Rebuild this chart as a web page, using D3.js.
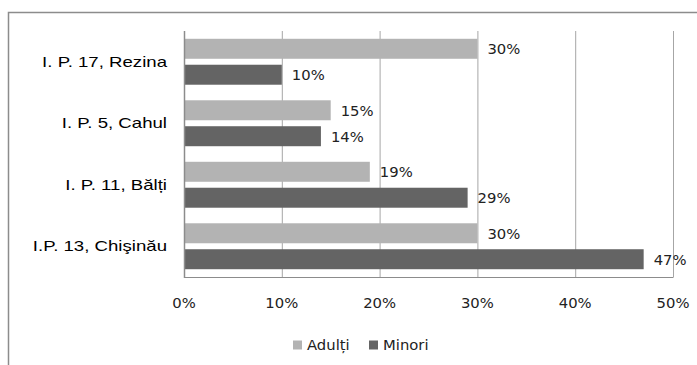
<!DOCTYPE html>
<html>
<head>
<meta charset="utf-8">
<script src="https://cdn.jsdelivr.net/npm/d3@7"></script>
<style>
  body { margin: 0; background: #fff; }
  svg { display: block; }
</style>
</head>
<body>
<svg></svg>
<script>
// data
var categories = ['I. P. 17, Rezina', 'I. P. 5, Cahul', 'I. P. 11, Bălți', 'I.P. 13, Chişinău'];
var adulti = [30, 15, 19, 30];
var minori = [10, 14, 29, 47];
var seriesNames = ['Adulți', 'Minori'];
var xTicks = [0, 10, 20, 30, 40, 50];

var colors = ['#b3b3b3', '#646464'];
var numFont = '14.8px';

var svg = d3.select('svg')
    .attr('width', 697)
    .attr('height', 365);

// outer chart frame (runs off the right and bottom edges)
svg.append('rect')
    .attr('x', 8.5).attr('y', 12.5)
    .attr('width', 700).attr('height', 400)
    .attr('fill', '#fff')
    .attr('stroke', '#8c8c8c')
    .attr('stroke-width', 1.5);

// plot area  (don't call it "top", that's window.top)
var plotLeft = 184, plotRight = 673, plotTop = 31, plotBottom = 277;

var x = d3.scaleLinear().domain([0, 50]).range([plotLeft, plotRight]);
var y = d3.scaleBand().domain(categories).range([plotTop, plotBottom]);
var y1 = d3.scaleBand().domain(seriesNames).range([0, y.bandwidth()])
    .paddingInner(0.23).paddingOuter(0.3);

// vertical gridlines
svg.append('g')
    .selectAll('line')
    .data(xTicks.slice(1))
    .enter()
    .append('line')
    .attr('x1', d => x(d) + 0.5).attr('x2', d => x(d) + 0.5)
    .attr('y1', plotTop).attr('y2', plotBottom)
    .attr('stroke', '#a6a6a6')
    .attr('stroke-width', 1);

// bars
var rows = categories.map((c, i) => ({ cat: c, values: [adulti[i], minori[i]] }));

var groups = svg.append('g')
    .selectAll('g')
    .data(rows)
    .enter()
    .append('g')
    .attr('transform', d => 'translate(0,' + y(d.cat) + ')');

groups.selectAll('rect')
    .data(d => d.values.map((v, j) => ({ s: seriesNames[j], v: v, j: j })))
    .enter()
    .append('rect')
    .attr('x', x(0))
    .attr('y', d => y1(d.s))
    .attr('width', d => x(d.v) - x(0))
    .attr('height', y1.bandwidth())
    .attr('fill', d => colors[d.j]);

groups.selectAll('text')
    .data(d => d.values.map((v, j) => ({ s: seriesNames[j], v: v })))
    .enter()
    .append('text')
    .attr('x', d => x(d.v) + 10)
    .attr('y', d => y1(d.s) + y1.bandwidth() / 2)
    .attr('dy', '0.36em')
    .style('font-family', 'DejaVu Sans')
    .style('font-size', numFont)
    .style('fill', '#222')
    .text(d => d.v + '%');

// axis lines
svg.append('line')
    .attr('x1', plotLeft).attr('x2', plotRight + 0.5)
    .attr('y1', plotBottom + 0.5).attr('y2', plotBottom + 0.5)
    .attr('stroke', '#8c8c8c');
svg.append('line')
    .attr('x1', plotLeft + 0.5).attr('x2', plotLeft + 0.5)
    .attr('y1', plotTop).attr('y2', plotBottom + 1)
    .attr('stroke', '#8c8c8c')
    .attr('stroke-width', 1.5);

// x tick labels
svg.append('g')
    .selectAll('text')
    .data(xTicks)
    .enter()
    .append('text')
    .attr('x', d => x(d))
    .attr('y', 303)
    .attr('dy', '0.36em')
    .attr('text-anchor', 'middle')
    .style('font-family', 'DejaVu Sans')
    .style('font-size', numFont)
    .style('fill', '#222')
    .text(d => d + '%');

// category labels (the original is stretched sideways)
svg.append('g')
    .selectAll('g')
    .data(categories)
    .enter()
    .append('g')
    .attr('transform', d => 'translate(167,' + (y(d) + y.bandwidth() / 2) + ') scale(1.33,1)')
    .append('text')
    .attr('text-anchor', 'end')
    .attr('dy', '0.36em')
    .style('font-family', 'Liberation Sans')
    .style('font-size', '14px')
    .style('fill', '#000')
    .text(d => d);

// legend
var legendX = [293, 369];
var legend = svg.append('g')
    .selectAll('g')
    .data(seriesNames)
    .enter()
    .append('g')
    .attr('transform', (d, i) => 'translate(' + legendX[i] + ',345)');

legend.append('rect')
    .attr('x', 0).attr('y', -4.5)
    .attr('width', 9).attr('height', 9)
    .attr('fill', (d, i) => colors[i]);

legend.append('text')
    .attr('x', 14)
    .attr('dy', '0.36em')
    .style('font-family', 'DejaVu Sans')
    .style('font-size', numFont)
    .style('fill', '#222')
    .text(d => d);
</script>
</body>
</html>
